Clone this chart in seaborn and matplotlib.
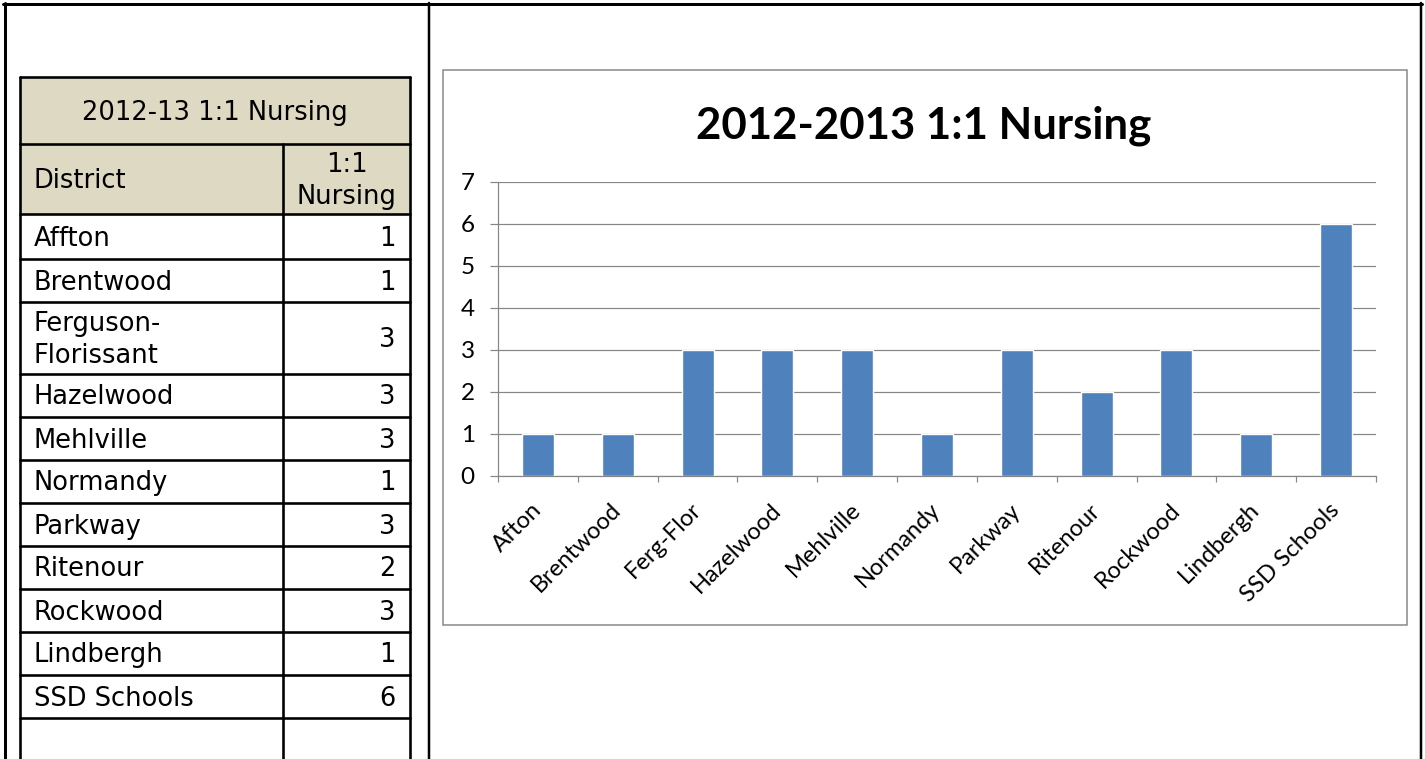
import matplotlib
matplotlib.use("Agg")
import matplotlib.pyplot as plt
import seaborn as sns
import pandas as pd
from matplotlib.patches import Rectangle

# table data (left) and chart data (right)
table_title = "2012-13 1:1 Nursing"
col_headers = ["District", "1:1\nNursing"]
districts = ["Affton", "Brentwood", "Ferguson-\nFlorissant", "Hazelwood", "Mehlville",
             "Normandy", "Parkway", "Ritenour", "Rockwood", "Lindbergh", "SSD Schools"]
chart_labels = ["Afton", "Brentwood", "Ferg-Flor", "Hazelwood", "Mehlville",
                "Normandy", "Parkway", "Ritenour", "Rockwood", "Lindbergh", "SSD Schools"]
nursing = [1, 1, 3, 3, 3, 1, 3, 2, 3, 1, 6]
chart_title = "2012-2013 1:1 Nursing"
y_ticks = [0, 1, 2, 3, 4, 5, 6, 7]

df = pd.DataFrame({"label": chart_labels, "nursing": nursing})

W, H = 1425, 759
PX = 0.72  # points per pixel at dpi 100

sns.set_theme(style="white")
plt.rcParams["font.family"] = ["DejaVu Sans"]
plt.rcParams["text.color"] = "black"
plt.rcParams["xtick.color"] = "black"
plt.rcParams["ytick.color"] = "black"

fig = plt.figure(figsize=(W / 100, H / 100), dpi=100)

# page layer in pixel coordinates
page = fig.add_axes([0, 0, 1, 1])
page.set_xlim(0, W)
page.set_ylim(H, 0)
page.axis("off")

# document frame
page.plot([5, 5], [3, H], color="black", lw=3 * PX)
page.plot([3, 1422], [4, 4], color="black", lw=3 * PX)
page.plot([429, 429], [3, H], color="black", lw=2.5 * PX)
page.plot([1421, 1421], [3, H], color="black", lw=2.5 * PX)

# table
tx0, tx1, tcol = 20, 410, 283
tan = "#DDD9C3"
heights = [67, 70, 45] + [72 if "\n" in d else 43 for d in districts[1:]] + [60]
tops = [77]
for h in heights:
    tops.append(tops[-1] + h)
for i in range(2):
    page.add_patch(Rectangle((tx0, tops[i]), tx1 - tx0, heights[i], facecolor=tan,
                             edgecolor="none", zorder=0))
tlw = 2.6 * PX
for y in tops[:-1]:
    page.plot([tx0, tx1], [y, y], color="black", lw=tlw, zorder=2)
page.plot([tx0, tx0], [tops[0], H], color="black", lw=tlw, zorder=2)
page.plot([tx1, tx1], [tops[0], H], color="black", lw=tlw, zorder=2)
page.plot([tcol, tcol], [tops[1], H], color="black", lw=tlw, zorder=2)

fs_t = 18.5
page.text((tx0 + tx1) / 2, (tops[0] + tops[1]) / 2 + 2, table_title, ha="center", va="center", fontsize=fs_t)
page.text(34, (tops[1] + tops[2]) / 2 + 2, col_headers[0], ha="left", va="center", fontsize=fs_t)
page.text((tcol + tx1) / 2, (tops[1] + tops[2]) / 2 + 2, col_headers[1], ha="center", va="center",
          fontsize=fs_t, linespacing=1.3)
for i, (d, v) in enumerate(zip(districts, nursing)):
    yc = (tops[i + 2] + tops[i + 3]) / 2 + 2
    page.text(34, yc, d, ha="left", va="center", fontsize=fs_t, linespacing=1.3)
    page.text(396, yc, str(v), ha="right", va="center", fontsize=fs_t)

# chart frame and title
page.add_patch(Rectangle((443, 70), 1407 - 443, 625 - 70, facecolor="none",
                         edgecolor="#868686", lw=1.5 * PX))
page.text(924, 138, chart_title, ha="center", va="baseline", fontsize=31.5,
          fontweight="bold", family="Lato")

# bar chart
ax = fig.add_axes([498 / W, 1 - 476 / H, (1376 - 498) / W, (476 - 182) / H])
ax.patch.set_alpha(0)
sns.barplot(data=df, x="label", y="nursing", color="#4F81BD", saturation=1,
            width=0.4, ax=ax)
ax.set_ylim(0, 7)
ax.set_xlim(-0.5, len(chart_labels) - 0.5)
ax.set_xlabel("")
ax.set_ylabel("")
ax.set_yticks(y_ticks, labels=[str(v) for v in y_ticks], fontsize=17.5, family="Lato")
ax.set_axisbelow(True)
ax.yaxis.grid(True, color="#868686", lw=1.2 * PX)
for s in ["top", "right"]:
    ax.spines[s].set_visible(False)
for s in ["left", "bottom"]:
    ax.spines[s].set_color("#868686")
    ax.spines[s].set_linewidth(1.2 * PX)
ax.tick_params(axis="y", left=True, length=8 * PX, color="#868686", width=1.2 * PX,
               pad=11, labelcolor="black")
ax.set_xticks(range(len(chart_labels)))
ax.set_xticklabels(chart_labels, rotation=45, ha="right", va="center",
                   rotation_mode="anchor", fontsize=17, family="Lato")
ax.tick_params(axis="x", which="major", bottom=False, length=0, pad=22, labelcolor="black")
ax.set_xticks([i - 0.5 for i in range(len(chart_labels) + 1)], minor=True)
ax.tick_params(axis="x", which="minor", bottom=True, length=6 * PX, color="#868686",
               width=1.2 * PX)

fig.savefig("out.png", dpi=100)
